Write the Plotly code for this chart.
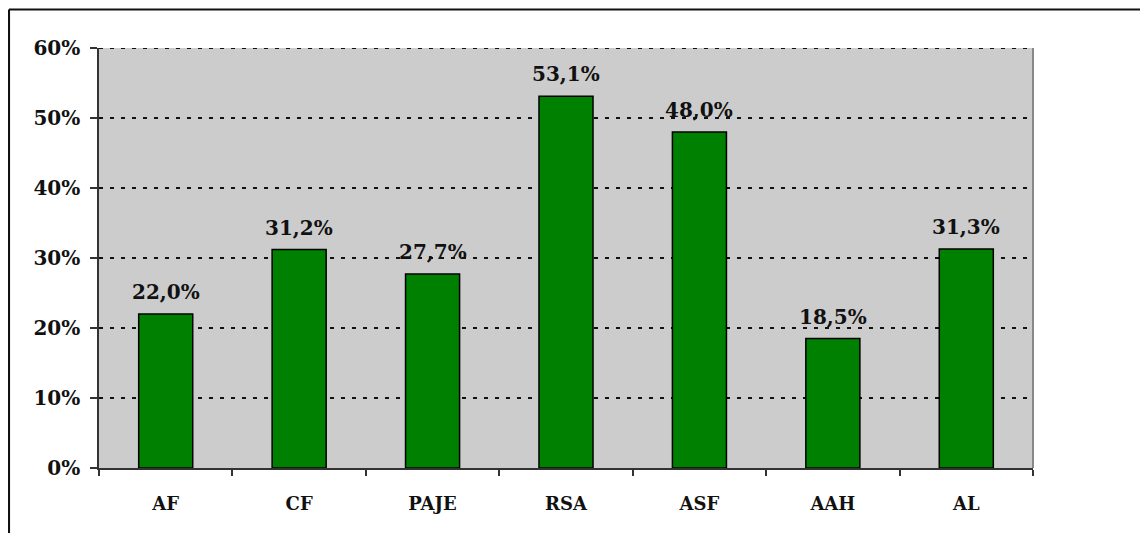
import plotly.graph_objects as go

categories = ["AF", "CF", "PAJE", "RSA", "ASF", "AAH", "AL"]
values = [22.0, 31.2, 27.7, 53.1, 48.0, 18.5, 31.3]
y_ticks = [0, 10, 20, 30, 40, 50, 60]

labels = [f"{v:.1f}".replace(".", ",") + "%" for v in values]
y_tick_text = [f"{t}%" for t in y_ticks]

FONT = "DejaVu Serif"

fig = go.Figure()
fig.add_trace(go.Bar(
    x=categories, y=values,
    marker=dict(color="#008000", line=dict(color="#000000", width=1.5)),
    width=0.405,
))

for c, v, t in zip(categories, values, labels):
    fig.add_annotation(x=c, y=v, text=t, showarrow=False, yanchor="bottom",
                       yshift=8, font=dict(family=FONT, size=20, color="#111111", weight="bold"))

# outer frame (top and left edges)
fig.add_shape(type="line", xref="paper", yref="paper", x0=-0.0964, x1=1.14, y0=1.0917, y1=1.0917,
              line=dict(color="#111111", width=2.2))
fig.add_shape(type="line", xref="paper", yref="paper", x0=-0.0964, x1=-0.0964, y0=1.0917, y1=-0.2,
              line=dict(color="#111111", width=2.2))
# plot-area right edge
fig.add_shape(type="line", xref="paper", yref="paper", x0=1, x1=1, y0=0, y1=1,
              line=dict(color="#888888", width=2))
# top gridline at the range edge
fig.add_shape(type="line", xref="paper", yref="y", x0=0, x1=1, y0=y_ticks[-1], y1=y_ticks[-1],
              line=dict(color="#111111", width=2, dash="4px,7px"))

fig.update_layout(
    width=1140, height=525,
    margin=dict(l=91, r=115, t=40, b=65),
    paper_bgcolor="white",
    plot_bgcolor="#CCCCCC",
    showlegend=False,
    bargap=0.6,
    font=dict(family=FONT, color="#111111"),
)
fig.update_xaxes(
    type="category",
    tickson="boundaries",
    ticks="outside", ticklen=6, tickwidth=1.5, tickcolor="#333333",
    showline=True, linecolor="#333333", linewidth=1.5,
    showgrid=False,
    tickfont=dict(family=FONT, size=18, color="#111111", weight="bold"),
    ticklabelstandoff=19,
)
fig.update_yaxes(
    range=[0, 60],
    tickvals=y_ticks,
    ticktext=y_tick_text,
    ticks="outside", ticklen=7, tickwidth=1.5, tickcolor="#333333",
    showline=True, linecolor="#333333", linewidth=1.5,
    showgrid=True, gridcolor="#111111", gridwidth=2, griddash="4px,7px",
    zeroline=False,
    tickfont=dict(family=FONT, size=20, color="#111111", weight="bold"),
    ticklabelstandoff=6,
)

fig.write_html("out.html")
